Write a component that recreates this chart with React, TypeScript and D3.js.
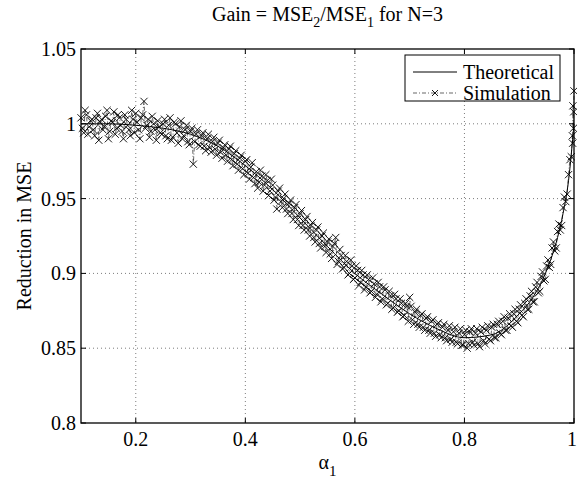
import React from 'react';
import * as d3 from 'd3';

const theoX = [0.1, 0.15, 0.2, 0.25, 0.3, 0.35, 0.4, 0.45, 0.5, 0.55, 0.6, 0.65, 0.7, 0.75, 0.8, 0.85, 0.9, 0.925, 0.95, 0.97, 0.98, 0.99, 1.0];
const theoY = [1.0, 1.0, 0.999, 0.997, 0.993, 0.985, 0.972, 0.956, 0.937, 0.918, 0.9, 0.886, 0.873, 0.863, 0.857, 0.859, 0.873, 0.884, 0.902, 0.924, 0.94, 0.962, 1.0];

const simX = [
  0.100, 0.1025, 0.105, 0.1075, 0.110, 0.1125, 0.115, 0.1175, 0.120, 0.1225,
  0.125, 0.1275, 0.130, 0.1325, 0.135, 0.1375, 0.140, 0.1425, 0.145, 0.1475,
  0.150, 0.1525, 0.155, 0.1575, 0.160, 0.1625, 0.165, 0.1675, 0.170, 0.1725,
  0.175, 0.1775, 0.180, 0.1825, 0.185, 0.1875, 0.190, 0.1925, 0.195, 0.1975,
  0.200, 0.2025, 0.205, 0.2075, 0.210, 0.2125, 0.215, 0.2175, 0.220, 0.2225,
  0.225, 0.2275, 0.230, 0.2325, 0.235, 0.2375, 0.240, 0.2425, 0.245, 0.2475,
  0.250, 0.255, 0.260, 0.265, 0.270, 0.275, 0.280, 0.285, 0.290, 0.295,
  0.300, 0.305, 0.310, 0.315, 0.320, 0.325, 0.330, 0.335, 0.340, 0.345,
  0.350, 0.355, 0.360, 0.365, 0.370, 0.375, 0.380, 0.385, 0.390, 0.395,
  0.400, 0.405, 0.410, 0.415, 0.420, 0.425, 0.430, 0.435, 0.440, 0.445,
  0.450, 0.455, 0.460, 0.465, 0.470, 0.475, 0.480, 0.485, 0.490, 0.495,
  0.500, 0.505, 0.510, 0.515, 0.520, 0.525, 0.530, 0.535, 0.540, 0.545,
  0.550, 0.555, 0.560, 0.565, 0.570, 0.575, 0.580, 0.585, 0.590, 0.595,
  0.600, 0.605, 0.610, 0.615, 0.620, 0.625, 0.630, 0.635, 0.640, 0.645,
  0.650, 0.655, 0.660, 0.665, 0.670, 0.675, 0.680, 0.685, 0.690, 0.695,
  0.700, 0.705, 0.710, 0.715, 0.720, 0.725, 0.730, 0.735, 0.740, 0.745,
  0.750, 0.755, 0.760, 0.765, 0.770, 0.775, 0.780, 0.785, 0.790, 0.795,
  0.800, 0.805, 0.810, 0.815, 0.820, 0.825, 0.830, 0.835, 0.840, 0.845,
  0.850, 0.855, 0.860, 0.865, 0.870, 0.875, 0.880, 0.885, 0.890, 0.895,
  0.900, 0.905, 0.910, 0.915, 0.920, 0.925, 0.930, 0.935, 0.940, 0.945,
  0.950, 0.955, 0.960, 0.965, 0.970, 0.975, 0.980, 0.985, 0.990, 0.995,
  0.997, 0.998, 0.999, 0.9995, 1.000,
];
const simY = [
  1.004, 0.997, 0.994, 1.009, 1.006, 0.993, 0.998, 1.002, 1.003, 0.996,
  0.992, 1.004, 1.007, 0.989, 1.001, 1.003, 0.996, 0.998, 1.005, 1.009,
  0.990, 0.995, 1.002, 1.001, 1.008, 0.993, 0.997, 1.006, 1.004, 0.999,
  0.995, 0.990, 1.006, 1.003, 0.999, 0.996, 0.992, 1.009, 1.003, 0.994,
  1.007, 1.001, 0.996, 0.990, 1.004, 1.006, 1.015, 0.997, 0.999, 1.003,
  0.991, 0.995, 1.005, 1.000, 0.996, 0.989, 1.002, 0.998, 0.994, 0.993,
  1.000, 0.992, 0.999, 0.989, 1.001, 0.994, 0.998, 0.990, 0.996, 0.988,
  0.995, 0.973, 0.993, 0.986, 0.992, 0.985, 0.990, 0.984, 0.988, 0.983,
  0.987, 0.981, 0.984, 0.979, 0.983, 0.976, 0.980, 0.973, 0.977, 0.970,
  0.975, 0.967, 0.971, 0.964, 0.968, 0.961, 0.965, 0.959, 0.962, 0.955,
  0.959, 0.951, 0.955, 0.948, 0.950, 0.943, 0.947, 0.940, 0.944, 0.936,
  0.940, 0.932, 0.936, 0.929, 0.932, 0.924, 0.929, 0.920, 0.925, 0.918,
  0.921, 0.913, 0.918, 0.924, 0.908, 0.912, 0.904, 0.908, 0.900, 0.905,
  0.897, 0.902, 0.894, 0.899, 0.891, 0.896, 0.888, 0.893, 0.886, 0.891,
  0.883, 0.889, 0.880, 0.885, 0.877, 0.883, 0.875, 0.880, 0.872, 0.878,
  0.884, 0.869, 0.874, 0.866, 0.872, 0.864, 0.870, 0.862, 0.868, 0.860,
  0.866, 0.859, 0.864, 0.857, 0.862, 0.856, 0.861, 0.854, 0.860, 0.852,
  0.859, 0.850, 0.861, 0.854, 0.860, 0.853, 0.861, 0.855, 0.862, 0.856,
  0.864, 0.857, 0.866, 0.860, 0.868, 0.862, 0.870, 0.865, 0.873, 0.868,
  0.876, 0.872, 0.880, 0.876, 0.885, 0.881, 0.891, 0.887, 0.898, 0.895,
  0.905, 0.904, 0.917, 0.915, 0.928, 0.929, 0.944, 0.948, 0.966, 0.978,
  0.992, 1.012, 0.997, 1.008, 1.022,
];

// second pass of simulation runs (interleaved between the first)
const simX2 = [
  0.2525, 0.2575, 0.2625, 0.2675, 0.2725, 0.2775, 0.2825, 0.2875, 0.2925, 0.2975,
  0.3025, 0.3075, 0.3125, 0.3175, 0.3225, 0.3275, 0.3325, 0.3375, 0.3425, 0.3475,
  0.3525, 0.3575, 0.3625, 0.3675, 0.3725, 0.3775, 0.3825, 0.3875, 0.3925, 0.3975,
  0.4025, 0.4075, 0.4125, 0.4175, 0.4225, 0.4275, 0.4325, 0.4375, 0.4425, 0.4475,
  0.4525, 0.4575, 0.4625, 0.4675, 0.4725, 0.4775, 0.4825, 0.4875, 0.4925, 0.4975,
  0.5025, 0.5075, 0.5125, 0.5175, 0.5225, 0.5275, 0.5325, 0.5375, 0.5425, 0.5475,
  0.5525, 0.5575, 0.5625, 0.5675, 0.5725, 0.5775, 0.5825, 0.5875, 0.5925, 0.5975,
  0.6025, 0.6075, 0.6125, 0.6175, 0.6225, 0.6275, 0.6325, 0.6375, 0.6425, 0.6475,
  0.6525, 0.6575, 0.6625, 0.6675, 0.6725, 0.6775, 0.6825, 0.6875, 0.6925, 0.6975,
  0.7025, 0.7075, 0.7125, 0.7175, 0.7225, 0.7275, 0.7325, 0.7375, 0.7425, 0.7475,
  0.7525, 0.7575, 0.7625, 0.7675, 0.7725, 0.7775, 0.7825, 0.7875, 0.7925, 0.7975,
  0.8025, 0.8075, 0.8125, 0.8175, 0.8225, 0.8275, 0.8325, 0.8375, 0.8425, 0.8475,
  0.8525, 0.8575, 0.8625, 0.8675, 0.8725, 0.8775, 0.8825, 0.8875, 0.8925, 0.8975,
  0.9025, 0.9075, 0.9125, 0.9175, 0.9225, 0.9275, 0.9325, 0.9375, 0.9425, 0.9475,
  0.9525, 0.9575, 0.9625, 0.9675, 0.9725, 0.9775, 0.9825, 0.9875, 0.9925, 0.9975,
];
const simY2 = [
  1.003, 0.990, 1.004, 0.991, 1.000, 0.987, 1.002, 0.992, 0.999, 0.986,
  0.997, 0.988, 0.996, 0.985, 0.994, 0.982, 0.993, 0.981, 0.991, 0.979,
  0.989, 0.977, 0.986, 0.975, 0.985, 0.972, 0.982, 0.969, 0.979, 0.966,
  0.976, 0.963, 0.974, 0.960, 0.957, 0.969, 0.955, 0.966, 0.952, 0.963,
  0.949, 0.943, 0.957, 0.944, 0.953, 0.940, 0.949, 0.936, 0.946, 0.932,
  0.942, 0.929, 0.938, 0.925, 0.934, 0.921, 0.931, 0.917, 0.927, 0.914,
  0.923, 0.910, 0.920, 0.906, 0.916, 0.903, 0.912, 0.899, 0.909, 0.896,
  0.905, 0.892, 0.902, 0.889, 0.899, 0.887, 0.897, 0.884, 0.894, 0.881,
  0.891, 0.879, 0.888, 0.876, 0.886, 0.874, 0.883, 0.871, 0.880, 0.868,
  0.878, 0.866, 0.876, 0.864, 0.873, 0.862, 0.871, 0.860, 0.869, 0.858,
  0.867, 0.857, 0.866, 0.855, 0.865, 0.854, 0.864, 0.853, 0.863, 0.852,
  0.862, 0.853, 0.863, 0.852, 0.863, 0.851, 0.864, 0.853, 0.865, 0.855,
  0.866, 0.857, 0.868, 0.859, 0.871, 0.862, 0.873, 0.864, 0.876, 0.867,
  0.879, 0.871, 0.883, 0.876, 0.888, 0.881, 0.894, 0.888, 0.901, 0.896,
  0.909, 0.906, 0.921, 0.917, 0.933, 0.932, 0.951, 0.953, 0.976, 0.987,
];

const xTicks = [0.2, 0.4, 0.6, 0.8, 1];
const xTickLabels = ['0.2', '0.4', '0.6', '0.8', '1'];
const yTicks = [0.8, 0.85, 0.9, 0.95, 1, 1.05];
const yTickLabels = ['0.8', '0.85', '0.9', '0.95', '1', '1.05'];

const FONT = 'Liberation Serif, Times New Roman, serif';

export default function App() {
  const W = 577, H = 483;
  const L = 81, R = 574, T = 49, B = 423;
  const x = d3.scaleLinear().domain([0.1, 1]).range([L, R]);
  const y = d3.scaleLinear().domain([0.8, 1.05]).range([B, T]);

  const theoPath = d3.line<number>()
    .x((_, i) => x(theoX[i]))
    .y((d) => y(d))
    .curve(d3.curveMonotoneX)(theoY) || '';

  const sim = d3.sort(
    d3.zip(simX.concat(simX2), simY.concat(simY2)) as [number, number][],
    (d) => d[0]
  );
  const simPath = d3.line<[number, number]>()
    .x((d) => x(d[0]))
    .y((d) => y(d[1]))(sim) || '';

  const cross = 'M-3.6,-3.6L3.6,3.6M-3.6,3.6L3.6,-3.6';
  const tickLen = 5;
  const txt = { fontFamily: FONT } as React.CSSProperties;

  return (
    <svg width={W} height={H} style={{ position: 'absolute', left: 0, top: 0, background: '#fff', fontFamily: FONT }}>
      <rect x={0} y={0} width={W} height={H} fill="#fff" />
      {xTicks.filter((t) => t < 1).map((t) => (
        <line key={'gx' + t} x1={x(t)} x2={x(t)} y1={T} y2={B} stroke="#444" strokeWidth={0.7} strokeDasharray="1,3" />
      ))}
      {yTicks.filter((t) => t > 0.8 && t < 1.05).map((t) => (
        <line key={'gy' + t} x1={L} x2={R} y1={y(t)} y2={y(t)} stroke="#444" strokeWidth={0.7} strokeDasharray="1,3" />
      ))}
      {xTicks.map((t) => (
        <g key={'tx' + t}>
          <line x1={x(t)} x2={x(t)} y1={B} y2={B - tickLen} stroke="#000" />
          <line x1={x(t)} x2={x(t)} y1={T} y2={T + tickLen} stroke="#000" />
        </g>
      ))}
      {yTicks.map((t) => (
        <g key={'ty' + t}>
          <line x1={L} x2={L + tickLen} y1={y(t)} y2={y(t)} stroke="#000" />
          <line x1={R} x2={R - tickLen} y1={y(t)} y2={y(t)} stroke="#000" />
        </g>
      ))}
      <path d={simPath} fill="none" stroke="#000" strokeWidth={0.6} strokeDasharray="4,2,1,2" />
      {sim.map((d, i) => (
        <path key={'m' + i} d={cross} transform={`translate(${x(d[0])},${y(d[1])})`} stroke="#000" strokeWidth={0.9} fill="none" />
      ))}
      <path d={theoPath} fill="none" stroke="#000" strokeWidth={1} />
      <rect x={L} y={T} width={R - L} height={B - T} fill="none" stroke="#000" strokeWidth={1.3} />
      {xTicks.map((t, i) => (
        <text key={'xl' + t} x={Math.min(x(t), 572)} y={446} textAnchor="middle" fontSize={20} fill="#000" style={txt}>{xTickLabels[i]}</text>
      ))}
      {yTicks.map((t, i) => (
        <text key={'yl' + t} x={76} y={y(t) + 7} textAnchor="end" fontSize={20} fill="#000" style={txt}>{yTickLabels[i]}</text>
      ))}
      <text x={(L + R) / 2} y={21} textAnchor="middle" fontSize={20} fill="#000" style={txt}>
        <tspan>Gain = MSE</tspan>
        <tspan fontSize={14} dy={6}>2</tspan>
        <tspan dy={-6}>/MSE</tspan>
        <tspan fontSize={14} dy={6}>1</tspan>
        <tspan dy={-6}> for N=3</tspan>
      </text>
      <text x={(L + R) / 2} y={469} textAnchor="middle" fontSize={20} fill="#000" style={txt}>
        <tspan>α</tspan>
        <tspan fontSize={15} dy={7}>1</tspan>
      </text>
      <text transform={`translate(31,${(T + B) / 2}) rotate(-90)`} textAnchor="middle" fontSize={20} fill="#000" style={txt}>Reduction in MSE</text>
      <rect x={405} y={55} width={155} height={46} fill="#fff" stroke="#000" strokeWidth={1} />
      <line x1={413} x2={457} y1={72} y2={72} stroke="#000" strokeWidth={1} />
      <text x={463} y={79} fontSize={20} fill="#000" style={txt}>Theoretical</text>
      <line x1={413} x2={457} y1={93} y2={93} stroke="#000" strokeWidth={0.6} strokeDasharray="4,2,1,2" />
      <path d="M-3,-3L3,3M-3,3L3,-3" transform="translate(435,93)" stroke="#000" strokeWidth={0.9} fill="none" />
      <text x={463} y={100} fontSize={20} fill="#000" style={txt}>Simulation</text>
    </svg>
  );
}
